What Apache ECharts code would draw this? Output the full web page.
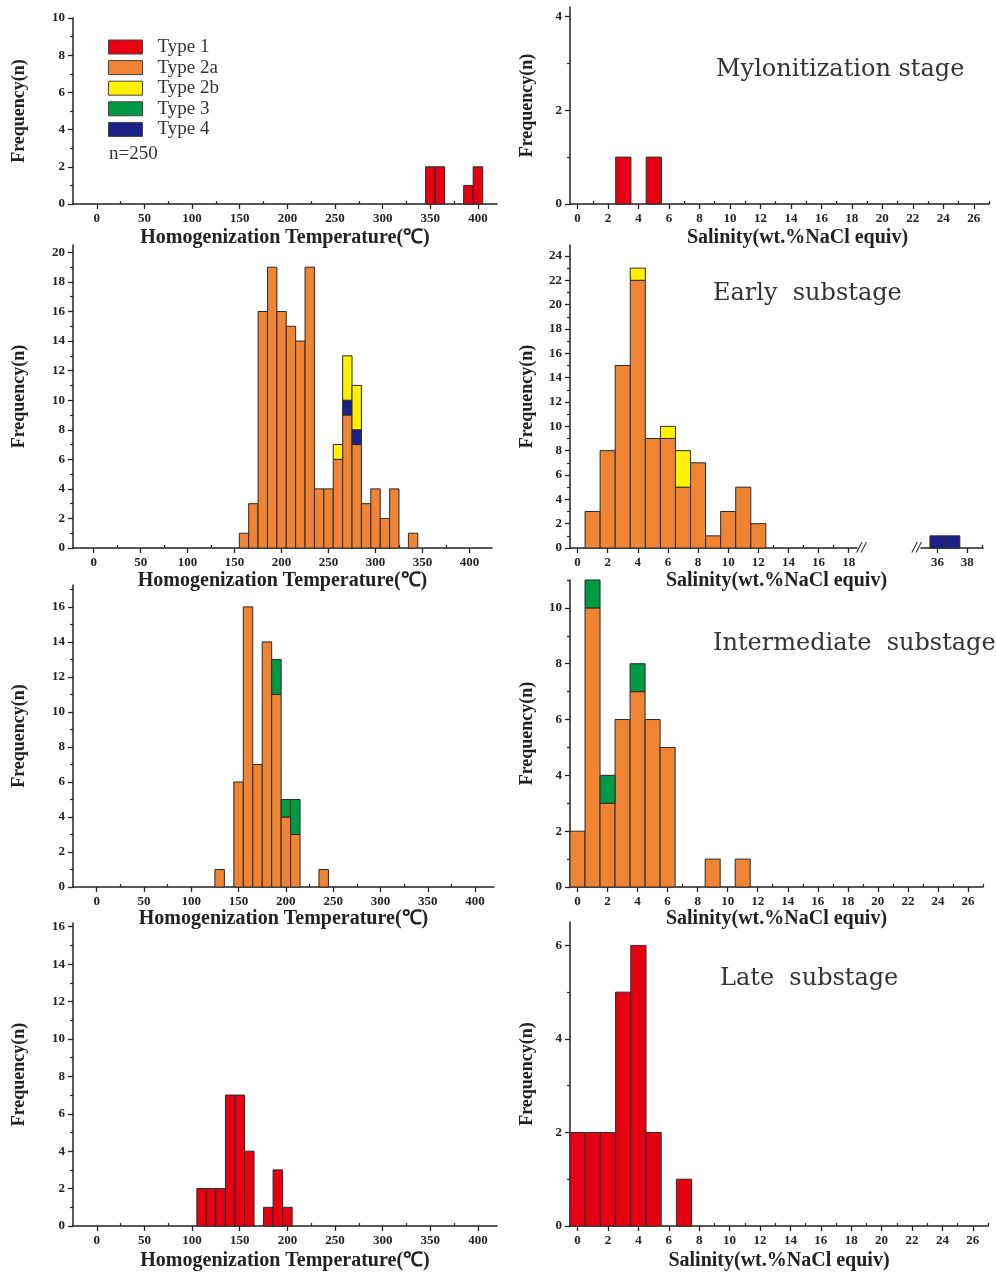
<!DOCTYPE html>
<html><head><meta charset="utf-8">
<script src="https://cdn.jsdelivr.net/npm/echarts@6/dist/echarts.min.js"></script>
<style>html,body{margin:0;padding:0;background:#fff}#c{width:996px;height:1274px}</style>
</head><body><div id="c"></div>
<script>
// ---------- DATA ----------
const typeNames = ['Type 1', 'Type 2a', 'Type 2b', 'Type 3', 'Type 4'];
const typeColors = ['#e60012', '#ef8434', '#fff100', '#009944', '#1d2088'];

const panelTitles = ['Mylonitization stage', 'Early  substage', 'Intermediate  substage', 'Late  substage'];
const sampleNote = 'n=250';
const tempAxisName = 'Homogenization Temperature(\u2103)';
const salAxisName = 'Salinity(wt.%NaCl equiv)';
const freqAxisName = 'Frequency(n)';

// Mylonitization stage
const mylTempBins = [350, 360, 390, 400];
const mylTempType1 = [2, 2, 1, 2];
const mylSalBins = [3, 5];
const mylSalType1 = [1, 1];

// Early substage
const earlyTempBins = [160, 170, 180, 190, 200, 210, 220, 230, 240, 250, 260, 270, 280, 290, 300, 310, 320, 330, 340];
const earlyTempType2a = [1, 3, 16, 19, 16, 15, 14, 19, 4, 4, 6, 9, 7, 3, 4, 2, 4, 0, 1];
const earlyTempType4 = [0, 0, 0, 0, 0, 0, 0, 0, 0, 0, 0, 1, 1, 0, 0, 0, 0, 0, 0];
const earlyTempType2b = [0, 0, 0, 0, 0, 0, 0, 0, 0, 0, 1, 3, 3, 0, 0, 0, 0, 0, 0];
const earlySalBins = [1, 2, 3, 4, 5, 6, 7, 8, 9, 10, 11, 12];
const earlySalType2a = [3, 8, 15, 22, 9, 9, 5, 7, 1, 3, 5, 2];
const earlySalType2b = [0, 0, 0, 1, 0, 1, 3, 0, 0, 0, 0, 0];
const earlySalHighBins = [36, 37];
const earlySalHighType4 = [1, 1];

// Intermediate substage
const interTempBins = [130, 150, 160, 170, 180, 190, 200, 210, 240];
const interTempType2a = [1, 6, 16, 7, 14, 11, 4, 3, 1];
const interTempType3 = [0, 0, 0, 0, 0, 2, 1, 2, 0];
const interSalBins = [0, 1, 2, 3, 4, 5, 6, 9, 11];
const interSalType2a = [2, 10, 3, 6, 7, 6, 5, 1, 1];
const interSalType3 = [0, 1, 1, 0, 1, 0, 0, 0, 0];

// Late substage
const lateTempBins = [110, 120, 130, 140, 150, 160, 180, 190, 200];
const lateTempType1 = [2, 2, 2, 7, 7, 4, 1, 3, 1];
const lateSalBins = [0, 1, 2, 3, 4, 5, 7];
const lateSalType1 = [2, 2, 2, 5, 6, 2, 1];

// Tick values (major = labelled, minor = unlabelled)
const tempLabels = [0, 50, 100, 150, 200, 250, 300, 350, 400];
const tempMinor = [25, 75, 125, 175, 225, 275, 325, 375];
const salLabels = [0, 2, 4, 6, 8, 10, 12, 14, 16, 18, 20, 22, 24, 26];
const salMinor = [1, 3, 5, 7, 9, 11, 13, 15, 17, 19, 21, 23, 25, 27];
const earlySalLabels = [0, 2, 4, 6, 8, 10, 12, 14, 16, 18];
const earlySalMinor = [1, 3, 5, 7, 9, 11, 13, 15, 17];
const highSalLabels = [36, 38];
const highSalMinor = [37, 39];
const freqLabels10 = [0, 2, 4, 6, 8, 10];
const freqMinor10 = [1, 3, 5, 7, 9];
const freqLabels4 = [0, 2, 4];
const freqMinor4 = [1, 3];
const freqLabels20 = [0, 2, 4, 6, 8, 10, 12, 14, 16, 18, 20];
const freqMinor20 = [1, 3, 5, 7, 9, 11, 13, 15, 17, 19];
const freqLabels24 = [0, 2, 4, 6, 8, 10, 12, 14, 16, 18, 20, 22, 24];
const freqMinor24 = [1, 3, 5, 7, 9, 11, 13, 15, 17, 19, 21, 23];
const freqLabels16 = [0, 2, 4, 6, 8, 10, 12, 14, 16];
const freqMinor16 = [1, 3, 5, 7, 9, 11, 13, 15, 17];
const freqLabels11 = [0, 2, 4, 6, 8, 10];
const freqMinor11 = [1, 3, 5, 7, 9, 11];
const freqLabels6 = [0, 2, 4, 6];
const freqMinor6 = [1, 3, 5];

// ---------- BUILD ----------
const SERIF = 'Liberation Serif';
const AX = '#222';

function stackLayers(bins, layers) {
  const base = bins.map(() => 0);
  return layers.map(l => {
    const data = [];
    bins.forEach((b, i) => {
      const v = l.values[i];
      if (v > 0) data.push([b, base[i], base[i] + v]);
      base[i] += v;
    });
    return { type: l.type, data };
  });
}

function binRender(w) {
  return function (params, api) {
    const x = api.value(0), b = api.value(1), t = api.value(2);
    const p0 = api.coord([x - w / 2, t]);
    const p1 = api.coord([x + w / 2, b]);
    return {
      type: 'rect',
      shape: { x: p0[0], y: p0[1], width: p1[0] - p0[0], height: p1[1] - p0[1] },
      style: api.style()
    };
  };
}

const series = [];
function addPanel(axisIdx, bins, layers, w) {
  stackLayers(bins, layers).forEach(l => {
    const ti = typeNames.indexOf(l.type);
    series.push({
      type: 'custom',
      name: l.type,
      coordinateSystem: 'cartesian2d',
      xAxisIndex: axisIdx, yAxisIndex: axisIdx,
      renderItem: binRender(w),
      encode: { x: 0, y: [1, 2] },
      itemStyle: { color: typeColors[ti], borderColor: '#2a2a2a', borderWidth: 1 },
      data: l.data,
      animation: false
    });
  });
}

const grids = [
  { left: 73, top: 18, width: 424, height: 186 },   // 0 L1
  { left: 570, top: 7, width: 419, height: 197 },   // 1 R1
  { left: 73, top: 245, width: 419, height: 303 },  // 2 L2
  { left: 570, top: 245, width: 287, height: 303 }, // 3 R2a
  { left: 921, top: 245, width: 62, height: 303 },  // 4 R2b
  { left: 570, top: 245, width: 413, height: 303 }, // 5 R2 name holder
  { left: 73, top: 585, width: 421, height: 302 },  // 6 L3
  { left: 570, top: 580, width: 413, height: 307 }, // 7 R3
  { left: 73, top: 923, width: 424, height: 303 },  // 8 L4
  { left: 570, top: 922, width: 418, height: 304 }  // 9 R4
].map(g => Object.assign({ outerBoundsMode: 'none', containLabel: false }, g));

const labelStyle = { color: AX, fontFamily: SERIF, fontWeight: 'bold', fontSize: 13 };
const nameStyle = { color: AX, fontFamily: SERIF, fontWeight: 'bold', fontSize: 20 };

function xAx(gi, min, max, labels, name, opts) {
  return Object.assign({
    type: 'value', gridIndex: gi, min, max, position: 'bottom',
    axisLine: { show: true, onZero: false, lineStyle: { color: AX, width: 1.5 } },
    axisTick: { show: true, length: 5, customValues: labels, lineStyle: { color: AX, width: 1.3 } },
    axisLabel: { show: true, customValues: labels, margin: 8, ...labelStyle },
    splitLine: { show: false },
    name, nameLocation: 'middle', nameGap: 24, nameTextStyle: nameStyle
  }, opts || {});
}
function yAx(gi, min, max, labels, gap) {
  return {
    type: 'value', gridIndex: gi, min, max, position: 'left',
    axisLine: { show: true, onZero: false, lineStyle: { color: AX, width: 1.5 } },
    axisTick: { show: true, length: 5, customValues: labels, lineStyle: { color: AX, width: 1.3 } },
    axisLabel: { show: true, customValues: labels, margin: 8, ...labelStyle },
    splitLine: { show: false },
    name: freqAxisName, nameLocation: 'middle', nameGap: gap, nameRotate: 90,
    nameTextStyle: { ...nameStyle, fontSize: 18 }
  };
}
// decoration-only axes carrying the minor ticks
function minorAx(gi, min, max, ticks, pos, inside) {
  return {
    type: 'value', gridIndex: gi, min, max, position: pos,
    axisLine: { show: false, onZero: false },
    axisTick: { show: true, inside, length: 3, customValues: ticks, lineStyle: { color: AX, width: 1.2 } },
    axisLabel: { show: false }, splitLine: { show: false }
  };
}
const hiddenAxis = (gi, min, max) => ({
  type: 'value', gridIndex: gi, min, max, show: false, splitLine: { show: false }
});
const breakName = { color: AX, fontFamily: 'DejaVu Sans', fontSize: 13, fontStyle: 'italic' };

const xAxes = [
  xAx(0, -25, 420, tempLabels, tempAxisName),
  xAx(1, -0.5, 27, salLabels, salAxisName, { nameTextStyle: { ...nameStyle, padding: [0, 0, 0, 36] } }),
  xAx(2, -22, 424, tempLabels, tempAxisName, { nameGap: 23 }),
  xAx(3, -0.5, 18.55, earlySalLabels, '//', { nameLocation: 'end', nameGap: 0, nameTextStyle: breakName }),
  xAx(4, 34.9, 39.05, highSalLabels, '//', { nameLocation: 'start', nameGap: 0, nameTextStyle: breakName }),
  {
    type: 'value', gridIndex: 5, min: 0, max: 1, position: 'bottom',
    axisLine: { show: false }, axisTick: { show: false }, axisLabel: { show: false }, splitLine: { show: false },
    name: salAxisName, nameLocation: 'middle', nameGap: 23, nameTextStyle: nameStyle
  },
  xAx(6, -25, 420, tempLabels, tempAxisName, { nameGap: 22 }),
  xAx(7, -0.5, 27, salLabels, salAxisName, { nameGap: 22 }),
  xAx(8, -25, 420, tempLabels, tempAxisName, { nameGap: 25 }),
  xAx(9, -0.5, 27, salLabels, salAxisName, { nameGap: 25 }),
  // minor tick overlays
  minorAx(0, -25, 420, tempMinor, 'bottom', true),
  minorAx(1, -0.5, 27, salMinor, 'bottom', true),
  minorAx(2, -22, 424, tempMinor, 'bottom', true),
  minorAx(3, -0.5, 18.55, earlySalMinor, 'bottom', true),
  minorAx(4, 34.9, 39.05, highSalMinor, 'bottom', true),
  minorAx(6, -25, 420, tempMinor, 'bottom', true),
  minorAx(7, -0.5, 27, salMinor, 'bottom', true),
  minorAx(8, -25, 420, tempMinor, 'bottom', true),
  minorAx(9, -0.5, 27, salMinor, 'bottom', true)
];
const yAxes = [
  yAx(0, 0, 10, freqLabels10, 45),
  yAx(1, 0, 4.2, freqLabels4, 34),
  yAx(2, 0, 20.5, freqLabels20, 45),
  yAx(3, 0, 24.9, freqLabels24, 34),
  hiddenAxis(4, 0, 24.9),
  hiddenAxis(5, 0, 24.9),
  yAx(6, 0, 17.25, freqLabels16, 45),
  yAx(7, 0, 11, freqLabels11, 34),
  yAx(8, 0, 16.2, freqLabels16, 45),
  yAx(9, 0, 6.5, freqLabels6, 34),
  minorAx(0, 0, 10, freqMinor10, 'left', false),
  minorAx(1, 0, 4.2, freqMinor4, 'left', false),
  minorAx(2, 0, 20.5, freqMinor20, 'left', false),
  minorAx(3, 0, 24.9, freqMinor24, 'left', false),
  minorAx(6, 0, 17.25, freqMinor16, 'left', false),
  minorAx(7, 0, 11, freqMinor11, 'left', false),
  minorAx(8, 0, 16.2, freqMinor16, 'left', false),
  minorAx(9, 0, 6.5, freqMinor6, 'left', false)
];

addPanel(0, mylTempBins, [{ type: 'Type 1', values: mylTempType1 }], 10);
addPanel(1, mylSalBins, [{ type: 'Type 1', values: mylSalType1 }], 1);
addPanel(2, earlyTempBins, [
  { type: 'Type 2a', values: earlyTempType2a },
  { type: 'Type 4', values: earlyTempType4 },
  { type: 'Type 2b', values: earlyTempType2b }
], 10);
addPanel(3, earlySalBins, [
  { type: 'Type 2a', values: earlySalType2a },
  { type: 'Type 2b', values: earlySalType2b }
], 1);
addPanel(4, earlySalHighBins, [{ type: 'Type 4', values: earlySalHighType4 }], 1);
addPanel(6, interTempBins, [
  { type: 'Type 2a', values: interTempType2a },
  { type: 'Type 3', values: interTempType3 }
], 10);
addPanel(7, interSalBins, [
  { type: 'Type 2a', values: interSalType2a },
  { type: 'Type 3', values: interSalType3 }
], 1);
addPanel(8, lateTempBins, [{ type: 'Type 1', values: lateTempType1 }], 10);
addPanel(9, lateSalBins, [{ type: 'Type 1', values: lateSalType1 }], 1);

const titleStyle = { color: '#333', fontFamily: 'DejaVu Serif', fontWeight: 'normal', fontSize: 24 };
const titles = [
  { text: panelTitles[0], left: 711, top: 53, textStyle: titleStyle },
  { text: panelTitles[1], left: 708, top: 277, textStyle: titleStyle },
  { text: panelTitles[2], left: 708, top: 627, textStyle: titleStyle },
  { text: panelTitles[3], left: 715, top: 962, textStyle: titleStyle },
  { text: sampleNote, left: 104, top: 140, textStyle: { color: '#333', fontFamily: SERIF, fontWeight: 'normal', fontSize: 19 } }
];

const chart = echarts.init(document.getElementById('c'), null, { renderer: 'canvas' });
chart.setOption({
  backgroundColor: '#fff',
  animation: false,
  title: titles,
  legend: {
    data: typeNames,
    orient: 'vertical', left: 103, top: 32,
    icon: 'rect', itemWidth: 34, itemHeight: 14, itemGap: 0.6,
    itemStyle: { borderColor: '#444', borderWidth: 1 },
    textStyle: { color: '#333', fontFamily: SERIF, fontSize: 19, lineHeight: 20, padding: [0, 0, 0, 10] },
    selectedMode: false
  },
  grid: grids,
  xAxis: xAxes,
  yAxis: yAxes,
  series
});
</script>
</body></html>
